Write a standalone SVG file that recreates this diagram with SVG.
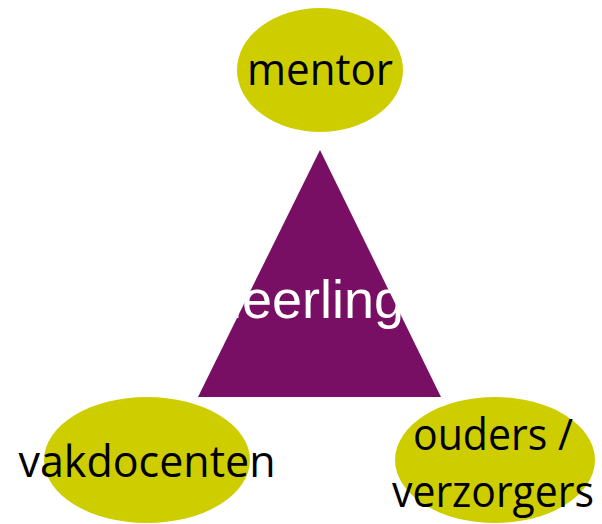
<svg xmlns="http://www.w3.org/2000/svg" width="602" height="524" viewBox="0 0 602 524">
<style>
.node{fill:#CDCD00;}
.lbl{font-family:"Open Sans","Noto Sans",sans-serif;font-size:44px;fill:#000;text-anchor:middle;}
.center{font-family:"Liberation Sans",Arial,sans-serif;font-size:54px;fill:#fff;text-anchor:middle;}
</style>
<rect width="602" height="524" fill="#fff"/>
<g id="connectors"></g>
<g id="leerling">
<polygon points="320,150 198,397 441,397" fill="#780F64"/>
<text class="center" x="317" y="318">leerling</text>
</g>
<g id="mentor">
<ellipse class="node" cx="320" cy="70" rx="83" ry="62"/>
<text class="lbl" x="320" y="85" textLength="146" lengthAdjust="spacingAndGlyphs">mentor</text>
</g>
<g id="vakdocenten">
<ellipse class="node" cx="147" cy="460" rx="103" ry="63"/>
<text class="lbl" x="147" y="477" textLength="257" lengthAdjust="spacingAndGlyphs">vakdocenten</text>
</g>
<g id="ouders">
<ellipse class="node" cx="495" cy="460" rx="100" ry="63"/>
<text class="lbl" x="493" y="450" textLength="160" lengthAdjust="spacingAndGlyphs">ouders /</text>
<text class="lbl" x="493" y="507" textLength="202" lengthAdjust="spacingAndGlyphs">verzorgers</text>
</g>
</svg>
